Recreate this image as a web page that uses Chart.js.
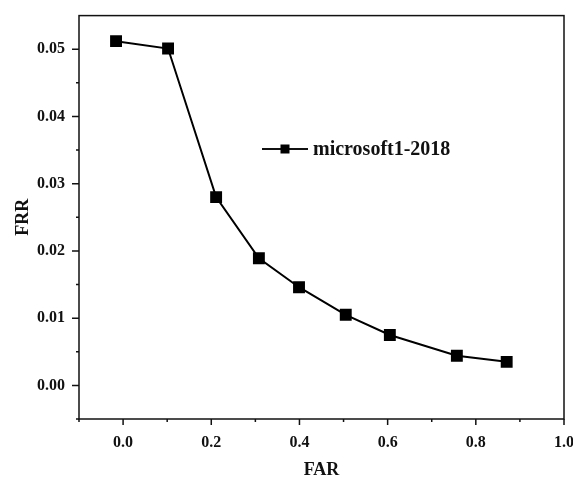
<!DOCTYPE html>
<html lang="en">
<head>
    <meta charset="UTF-8">
    <title>FRR vs FAR</title>
    <style>
        html, body {
            margin: 0;
            padding: 0;
            overflow: hidden;
            background: #fff;
        }
        #chartBox {
            width: 590px;
            height: 479px;
        }
    </style>
    <script src="https://cdn.jsdelivr.net/npm/chart.js"></script>
</head>
<body>
    <div id="chartBox">
        <canvas id="rocChart"></canvas>
    </div>

    <script>
        // values
        const seriesName = 'microsoft1-2018';
        const farValues = [-0.016, 0.102, 0.211, 0.308, 0.399, 0.505, 0.605, 0.757, 0.870];
        const frrValues = [0.0512, 0.0501, 0.0280, 0.0189, 0.0146, 0.0105, 0.0075, 0.0044, 0.0035];
        const xTicks = [0.0, 0.2, 0.4, 0.6, 0.8, 1.0];
        const xMinorTicks = [-0.1, 0.1, 0.3, 0.5, 0.7, 0.9];
        const yTicks = [0.00, 0.01, 0.02, 0.03, 0.04, 0.05];
        const yMinorTicks = [-0.005, 0.005, 0.015, 0.025, 0.035, 0.045];

        const serif = "'Liberation Serif', 'Times New Roman', serif";
        const ink = '#111';

        // frame, tick marks and the legend (Origin style)
        const framePlugin = {
            id: 'frame',
            afterDraw(chart) {
                const { ctx, chartArea: a, scales } = chart;
                const x = scales.x, y = scales.y;
                ctx.save();
                ctx.strokeStyle = ink;
                ctx.lineWidth = 1.5;
                ctx.strokeRect(a.left, a.top, a.right - a.left, a.bottom - a.top);

                ctx.beginPath();
                xTicks.forEach(v => {
                    const px = x.getPixelForValue(v);
                    ctx.moveTo(px, a.bottom);
                    ctx.lineTo(px, a.bottom + 6);
                });
                xMinorTicks.forEach(v => {
                    const px = x.getPixelForValue(v);
                    ctx.moveTo(px, a.bottom);
                    ctx.lineTo(px, a.bottom + 3);
                });
                yTicks.forEach(v => {
                    const py = y.getPixelForValue(v);
                    ctx.moveTo(a.left, py);
                    ctx.lineTo(a.left - 7, py);
                });
                yMinorTicks.forEach(v => {
                    const py = y.getPixelForValue(v);
                    ctx.moveTo(a.left, py);
                    ctx.lineTo(a.left - 3, py);
                });
                ctx.stroke();

                // legend
                const lx = 262, ly = 149;
                ctx.lineWidth = 2;
                ctx.beginPath();
                ctx.moveTo(lx, ly);
                ctx.lineTo(lx + 46, ly);
                ctx.stroke();
                ctx.fillStyle = '#000';
                ctx.fillRect(lx + 23 - 4.5, ly - 4.5, 9, 9);
                ctx.font = 'bold 20px ' + serif;
                ctx.fillStyle = ink;
                ctx.textBaseline = 'middle';
                ctx.fillText(seriesName, lx + 51, ly + 1);
                ctx.restore();
            }
        };

        const ctx = document.getElementById('rocChart').getContext('2d');
        const rocChart = new Chart(ctx, {
            type: 'scatter',
            data: {
                datasets: [{
                    label: seriesName,
                    data: farValues.map((v, i) => ({ x: v, y: frrValues[i] })),
                    showLine: true,
                    borderColor: '#000',
                    backgroundColor: '#000',
                    borderWidth: 2,
                    pointStyle: 'rect',
                    pointRadius: 7,
                    pointHoverRadius: 7
                }]
            },
            options: {
                responsive: true,
                maintainAspectRatio: false,
                animation: false,
                layout: {
                    padding: { top: 13, right: 26, bottom: 0, left: 0 }
                },
                plugins: {
                    legend: { display: false },
                    tooltip: { enabled: false }
                },
                scales: {
                    x: {
                        type: 'linear',
                        min: -0.1,
                        max: 1.0,
                        afterBuildTicks: s => { s.ticks = xTicks.map(v => ({ value: v })); },
                        afterFit: s => { s.height = 60; },
                        grid: { display: false, drawTicks: true, tickLength: 6 },
                        border: { display: false },
                        ticks: {
                            padding: 8,
                            maxRotation: 0,
                            color: ink,
                            font: { family: serif, size: 16, weight: 'bold' },
                            callback: v => v.toFixed(1)
                        },
                        title: {
                            display: true,
                            text: 'FAR',
                            color: ink,
                            font: { family: serif, size: 18, weight: 'bold', lineHeight: 1 },
                            padding: { top: 0, bottom: 0 }
                        }
                    },
                    y: {
                        type: 'linear',
                        min: -0.005,
                        max: 0.055,
                        afterBuildTicks: s => { s.ticks = yTicks.map(v => ({ value: v })); },
                        afterFit: s => { s.width = 79; },
                        grid: { display: false, drawTicks: true, tickLength: 8 },
                        border: { display: false },
                        ticks: {
                            padding: 6,
                            color: ink,
                            font: { family: serif, size: 16, weight: 'bold' },
                            callback: v => v.toFixed(2)
                        },
                        title: {
                            display: true,
                            text: 'FRR',
                            color: ink,
                            font: { family: serif, size: 18, weight: 'bold', lineHeight: 1 },
                            padding: { top: 14, bottom: 0 }
                        }
                    }
                }
            },
            plugins: [framePlugin]
        });
    </script>
</body>
</html>
